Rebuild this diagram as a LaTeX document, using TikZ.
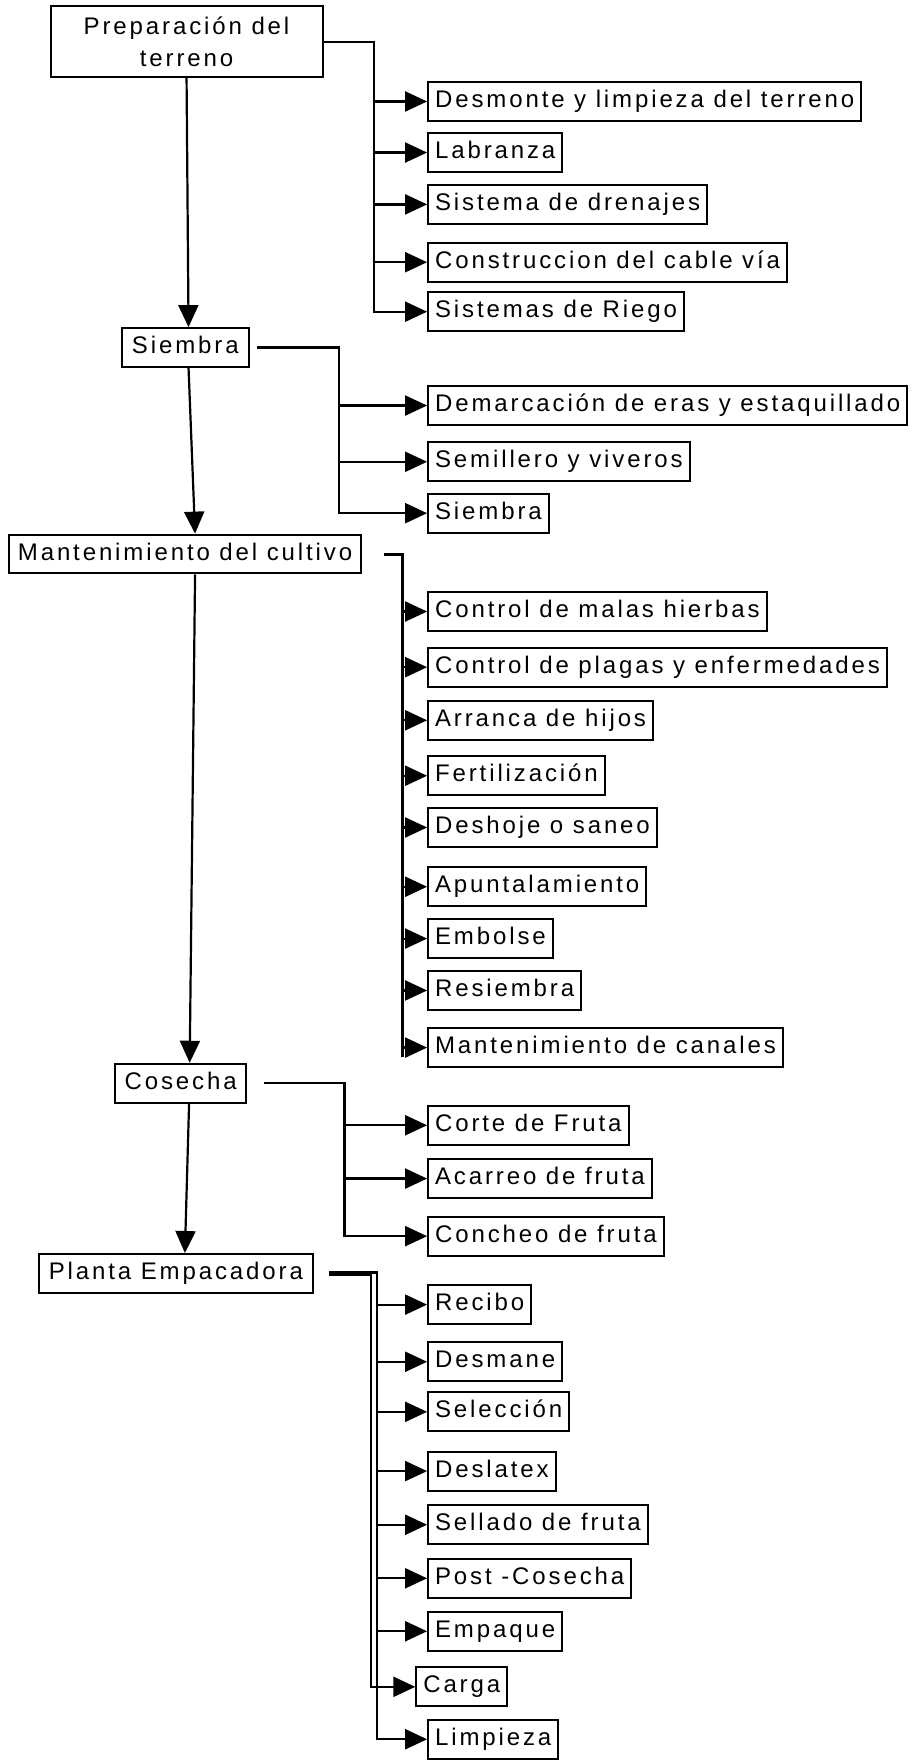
\documentclass[tikz,border=0pt]{standalone}
\usepackage{fontspec}
\setmainfont{Liberation Sans}[LetterSpace=12]
\usetikzlibrary{arrows.meta}

\begin{document}
\begin{tikzpicture}[x=0.561pt,y=-0.561pt,
    every node/.style={font=\fontsize{12}{16}\selectfont},
    caja/.style={draw,line width=1pt,inner xsep=3.5pt,inner ysep=0pt,minimum height=19.4pt,text height=9pt,text depth=3pt,anchor=west},
    etapa/.style={caja},
    flecha/.style={-{Triangle[length=11pt,width=10pt]},line width=1.1pt}]
  \useasboundingbox (0,0) rectangle (812,1568);
  \node[draw,line width=1pt,align=center,minimum width=136pt,minimum height=35.2pt,anchor=north west] (prep) at (44.1,4.8) {Preparación del\\terreno};
  \node[etapa,minimum width=63.2pt] (siembra) at (107.9,309.6) {Siembra};
  \node[etapa,minimum width=175.8pt] (mant) at (7.3,493.6) {Mantenimiento del cultivo};
  \node[etapa,minimum width=65.5pt] (cosecha) at (101.7,965) {Cosecha};
  \node[etapa,minimum width=137pt] (planta) at (33.7,1134.5) {Planta Empacadora};
  \draw[flecha] (prep.south) -- ([xshift=1.6pt]siembra.north);
  \draw[flecha] ([xshift=1.6pt]siembra.south) -- ([xshift=5pt]mant.north);
  \draw[flecha] ([xshift=5pt]mant.south) -- ([xshift=4.5pt]cosecha.north);
  \draw[flecha] ([xshift=4.2pt]cosecha.south) -- ([xshift=4.5pt]planta.north);

  \node[caja] (desmonte) at (380.5,90.4) {Desmonte y limpieza del terreno};
  \node[caja] (labranza) at (380.5,135.9) {Labranza};
  \node[caja] (drenajes) at (380.5,182.1) {Sistema de drenajes};
  \node[caja] (cable) at (380.5,233.6) {Construccion del cable vía};
  \node[caja] (riego) at (380.5,277.7) {Sistemas de Riego};
  \coordinate (b1) at (333,0);
  \draw[flecha] (prep.east) -| (b1 |- riego) -- (riego);
  \draw[flecha] (b1 |- desmonte) -- (desmonte);
  \draw[flecha] (b1 |- labranza) -- (labranza);
  \draw[flecha] (b1 |- drenajes) -- (drenajes);
  \draw[flecha] (b1 |- cable) -- (cable);

  \node[caja] (demarcacion) at (380.5,361.3) {Demarcación de eras y estaquillado};
  \node[caja] (semillero) at (380.5,411.4) {Semillero y viveros};
  \node[caja] (siembrab) at (380.5,457.2) {Siembra};
  \coordinate (b2) at (302,0);
  \draw[flecha,shorten <=3.7pt] (siembra.east) -| (b2 |- siembrab) -- (siembrab);
  \draw[flecha] (b2 |- demarcacion) -- (demarcacion);
  \draw[flecha] (b2 |- semillero) -- (semillero);

  \node[caja] (malas) at (380.5,544.8) {Control de malas hierbas};
  \node[caja] (plagas) at (380.5,594.4) {Control de plagas y enfermedades};
  \node[caja] (arranca) at (380.5,641.7) {Arranca de hijos};
  \node[caja] (fertil) at (380.5,691.1) {Fertilización};
  \node[caja] (deshoje) at (380.5,737.2) {Deshoje o saneo};
  \node[caja] (apunta) at (380.5,790) {Apuntalamiento};
  \node[caja] (embolse) at (380.5,836.2) {Embolse};
  \node[caja] (resiembra) at (380.5,882.4) {Resiembra};
  \node[caja] (canales) at (380.5,933.3) {Mantenimiento de canales};
  \coordinate (b3) at (359,0);
  \draw[line width=1.5pt,shorten <=11pt] (mant.east) -| ([yshift=-4.5pt]b3 |- canales);
  \draw[flecha] (b3 |- malas) -- (malas);
  \draw[flecha] (b3 |- plagas) -- (plagas);
  \draw[flecha] (b3 |- arranca) -- (arranca);
  \draw[flecha] (b3 |- fertil) -- (fertil);
  \draw[flecha] (b3 |- deshoje) -- (deshoje);
  \draw[flecha] (b3 |- apunta) -- (apunta);
  \draw[flecha] (b3 |- embolse) -- (embolse);
  \draw[flecha] (b3 |- resiembra) -- (resiembra);
  \draw[flecha] (b3 |- canales) -- (canales);

  \node[caja] (corte) at (380.5,1002.5) {Corte de Fruta};
  \node[caja] (acarreo) at (380.5,1050) {Acarreo de fruta};
  \node[caja] (concheo) at (380.5,1101.3) {Concheo de fruta};
  \coordinate (b4) at (307,0);
  \draw[flecha,shorten <=8.4pt] (cosecha.east) -| (b4 |- concheo) -- (concheo);
  \draw[flecha] (b4 |- corte) -- (corte);
  \draw[flecha] (b4 |- acarreo) -- (acarreo);

  \node[caja] (recibo) at (380.5,1162.3) {Recibo};
  \node[caja] (desmane) at (380.5,1213.2) {Desmane};
  \node[caja] (seleccion) at (380.5,1257.8) {Selección};
  \node[caja] (deslatex) at (380.5,1310.6) {Deslatex};
  \node[caja] (sellado) at (380.5,1358.4) {Sellado de fruta};
  \node[caja] (post) at (380.5,1406.1) {Post -Cosecha};
  \node[caja] (empaque) at (380.5,1453.3) {Empaque};
  \node[caja] (carga) at (370,1502.8) {Carga};
  \node[caja] (limpieza) at (380.5,1549.5) {Limpieza};
  \coordinate (b5) at (330.5,0);
  \coordinate (b6) at (335.7,0);
  \draw[flecha,shorten <=7.6pt] ([yshift=-0.5pt]planta.east) -| (b5 |- carga) -- (carga);
  \draw[flecha,shorten <=7.6pt] ([yshift=0.5pt]planta.east) -| (b6 |- limpieza) -- (limpieza);
  \draw[flecha] (b6 |- recibo) -- (recibo);
  \draw[flecha] (b6 |- desmane) -- (desmane);
  \draw[flecha] (b6 |- seleccion) -- (seleccion);
  \draw[flecha] (b6 |- deslatex) -- (deslatex);
  \draw[flecha] (b6 |- sellado) -- (sellado);
  \draw[flecha] (b6 |- post) -- (post);
  \draw[flecha] (b6 |- empaque) -- (empaque);
\end{tikzpicture}
\end{document}
